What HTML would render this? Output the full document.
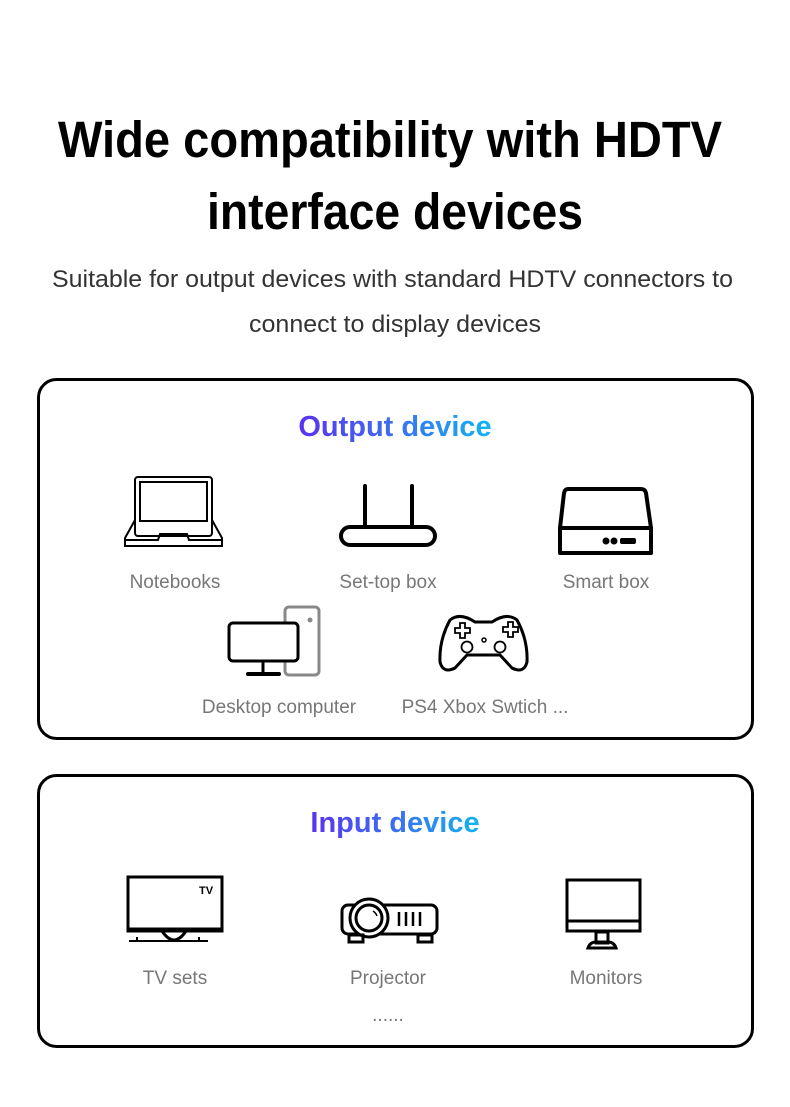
<!DOCTYPE html>
<html><head><meta charset="utf-8"><style>
html,body{margin:0;padding:0;background:#fff;}
svg{display:block;}
text{font-family:"Liberation Sans",sans-serif;}
</style></head><body>
<svg width="790" height="1107" viewBox="0 0 790 1107" xmlns="http://www.w3.org/2000/svg">
<defs>
<linearGradient id="g" x1="0" x2="1" y1="0" y2="0">
<stop offset="0" stop-color="#5a32f0"/><stop offset="0.5" stop-color="#3b6ff2"/><stop offset="1" stop-color="#12b4f0"/>
</linearGradient>
</defs>
<text x="58" y="157" font-size="51" font-weight="bold" fill="#000" textLength="664" lengthAdjust="spacingAndGlyphs">Wide compatibility with HDTV</text>
<text x="207" y="229" font-size="51" font-weight="bold" fill="#000" textLength="376" lengthAdjust="spacingAndGlyphs">interface devices</text>
<text x="52" y="287" font-size="24" fill="#333" textLength="681" lengthAdjust="spacingAndGlyphs">Suitable for output devices with standard HDTV connectors to</text>
<text x="249" y="332" font-size="24" fill="#333" textLength="292" lengthAdjust="spacingAndGlyphs">connect to display devices</text>

<rect x="38.5" y="379.5" width="714" height="359" rx="18" fill="none" stroke="#000" stroke-width="3"/>
<rect x="38.5" y="775.5" width="714" height="271" rx="18" fill="none" stroke="#000" stroke-width="3"/>

<text x="395" y="436" text-anchor="middle" font-size="29" font-weight="bold" fill="url(#g)">Output device</text>
<text x="395" y="832" text-anchor="middle" font-size="29" font-weight="bold" fill="url(#g)">Input device</text>

<g font-size="19" fill="#777" text-anchor="middle">
<text x="175" y="588">Notebooks</text>
<text x="388" y="588">Set-top box</text>
<text x="606" y="588">Smart box</text>
<text x="279" y="713">Desktop computer</text>
<text x="485" y="713">PS4 Xbox Swtich ...</text>
<text x="175" y="984">TV sets</text>
<text x="388" y="984">Projector</text>
<text x="606" y="984">Monitors</text>
<text x="388" y="1021">......</text>
</g>

<g fill="none" stroke="#000" stroke-width="2">
<rect x="135" y="477" width="77" height="59" rx="3"/>
<rect x="140" y="482" width="67" height="39"/>
<path d="M135 520 L125 538 L125 546 L222 546 L222 538 L212 520"/>
<path d="M125 540 L158 540 L160 534 L187 534 L189 540 L222 540"/>
</g>
<g fill="none" stroke="#000" stroke-width="4" stroke-linecap="round" stroke-linejoin="round">
<line x1="365" y1="486" x2="365" y2="527"/>
<line x1="412" y1="486" x2="412" y2="527"/>
<rect x="341" y="527" width="94" height="18" rx="9"/>
<path d="M568 489 L641 489 Q645 489 646 493 L651 528 L651 553 L560 553 L560 528 L564 493 Q565 489 568 489 Z"/>
<line x1="560" y1="528" x2="651" y2="528"/>
</g>
<circle cx="606" cy="541" r="3.5"/><circle cx="614" cy="541" r="3.5"/><rect x="620" y="538" width="16" height="6" rx="2"/>
<rect x="285" y="607" width="34" height="68" rx="4" fill="none" stroke="#888" stroke-width="3"/>
<circle cx="310" cy="620" r="2.5" fill="#888"/>
<rect x="229" y="623" width="69" height="38" rx="4" fill="#fff" stroke="#000" stroke-width="3"/>
<line x1="263" y1="661" x2="263" y2="673" stroke="#000" stroke-width="3"/>
<line x1="248" y1="674" x2="279" y2="674" stroke="#000" stroke-width="4" stroke-linecap="round"/>
<path d="M450 620 Q460 612 475 622 L492 622 Q507 612 517 620 Q528 640 527 662 Q524 674 512 668 L500 655 L467 655 L455 668 Q443 674 440 662 Q439 640 450 620 Z" fill="none" stroke="#000" stroke-width="3"/>
<path d="M455 628 h5 v-5 h5 v5 h5 v5 h-5 v5 h-5 v-5 h-5 Z M503 627 h5 v-5 h5 v5 h5 v5 h-5 v5 h-5 v-5 h-5 Z" fill="none" stroke="#000" stroke-width="1.8"/>
<circle cx="467" cy="647" r="5.5" fill="none" stroke="#000" stroke-width="1.8"/>
<circle cx="500" cy="647" r="5.5" fill="none" stroke="#000" stroke-width="1.8"/>
<circle cx="484" cy="640" r="2" fill="none" stroke="#000" stroke-width="1.5"/>

<g fill="none" stroke="#000" stroke-width="3">
<rect x="128" y="877" width="94" height="54"/>
<line x1="128" y1="929" x2="222" y2="929" stroke-width="3"/>
<path d="M162 931 Q168 940 174 940 Q180 940 186 931"/>
<line x1="129" y1="941" x2="208" y2="941" stroke-width="2"/>
<line x1="137" y1="937" x2="137" y2="942" stroke-width="2"/>
<line x1="199" y1="937" x2="199" y2="942" stroke-width="2"/>
</g>
<text x="206" y="894" text-anchor="middle" font-size="11" font-weight="bold">TV</text>
<g fill="none" stroke="#000" stroke-width="3">
<rect x="342" y="905" width="95" height="29" rx="6"/>
<circle cx="369" cy="918" r="19" fill="#fff"/>
<circle cx="369" cy="918" r="13"/>
<rect x="349" y="935" width="14" height="7"/>
<rect x="418" y="935" width="14" height="7"/>
</g>
<path d="M373 911 q3 2 4 5" stroke="#000" stroke-width="1.5" fill="none"/>
<g stroke="#000" stroke-width="2.5"><line x1="399" y1="912" x2="399" y2="926"/><line x1="406" y1="912" x2="406" y2="926"/><line x1="413" y1="912" x2="413" y2="926"/><line x1="420" y1="912" x2="420" y2="926"/></g>
<g fill="none" stroke="#000" stroke-width="3">
<rect x="567" y="880" width="73" height="51"/>
<line x1="567" y1="921" x2="640" y2="921"/>
<rect x="596" y="932" width="12" height="11"/>
<path d="M588 948 Q590 942 596 942 L608 942 Q614 942 616 948 Z"/>
</g>
</svg>
</body></html>
